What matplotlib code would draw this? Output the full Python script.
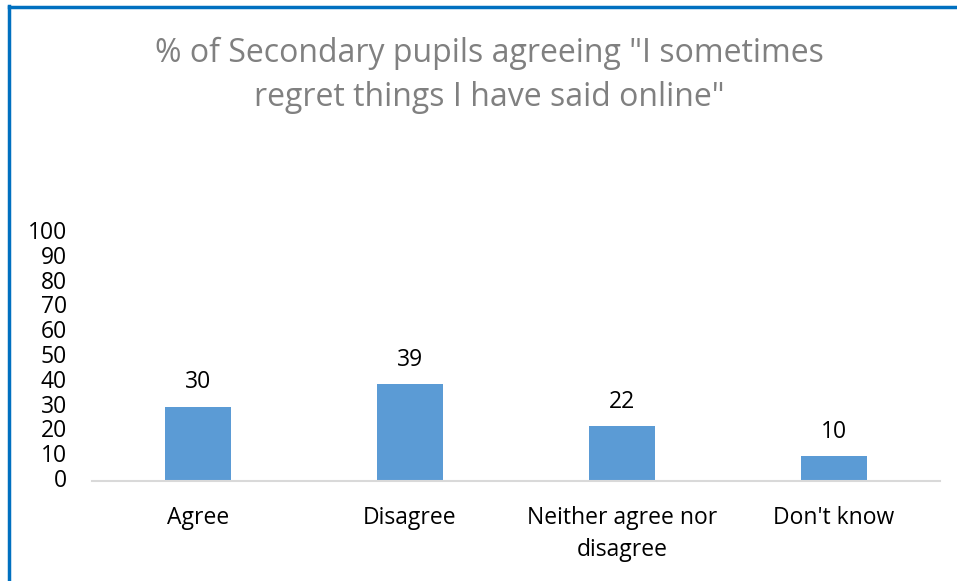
import matplotlib

matplotlib.use("Agg")
import matplotlib.pyplot as plt
from matplotlib.lines import Line2D

categories = ["Agree", "Disagree", "Neither agree nor\ndisagree", "Don't know"]
percentages = [30, 39, 22, 10]
y_ticks = [0, 10, 20, 30, 40, 50, 60, 70, 80, 90, 100]

BAR_COLOR = "#5B9BD5"
FRAME_COLOR = "#0070C0"
TITLE_COLOR = "#808080"
FONT = ["Open Sans", "DejaVu Sans"]

plt.rcParams["font.family"] = FONT

fig = plt.figure(figsize=(9.57, 5.81), dpi=100)
ax = fig.add_axes([0.0961, 0.172, 0.886, 0.427])

x = range(len(categories))
bars = ax.bar(x, percentages, width=0.31, color=BAR_COLOR, zorder=2)
for rect, val in zip(bars, percentages):
    ax.annotate(str(val), (rect.get_x() + rect.get_width() / 2, val),
                xytext=(0, 9), textcoords="offset points",
                ha="center", va="bottom", fontsize=16.5, color="black")

ax.set_xlim(-0.5, len(categories) - 0.5)
ax.set_ylim(0, 100)
ax.set_yticks(y_ticks)
ax.tick_params(axis="y", length=0, labelsize=16.5, pad=18)
ax.tick_params(axis="x", length=0, labelsize=16.5, pad=18)
ax.set_xticks(list(x))
ax.set_xticklabels(categories, linespacing=1.45)
for lbl in ax.get_yticklabels():
    lbl.set_verticalalignment("center")

for side in ["top", "right", "left"]:
    ax.spines[side].set_visible(False)
ax.spines["bottom"].set_color("#D9D9D9")
ax.spines["bottom"].set_linewidth(1.5)

fig.text(0.511, 0.870,
         "% of Secondary pupils agreeing \"I sometimes\nregret things I have said online\"",
         ha="center", va="center", fontsize=23, color=TITLE_COLOR, linespacing=1.45)

# blue frame along the top and left edges
fig.add_artist(Line2D([0.009, 1.0], [0.988, 0.988], transform=fig.transFigure,
                      color=FRAME_COLOR, linewidth=2.5))
fig.add_artist(Line2D([0.0095, 0.0095], [0.0, 0.99], transform=fig.transFigure,
                      color=FRAME_COLOR, linewidth=2.5))

fig.savefig("out.png", dpi=100)
